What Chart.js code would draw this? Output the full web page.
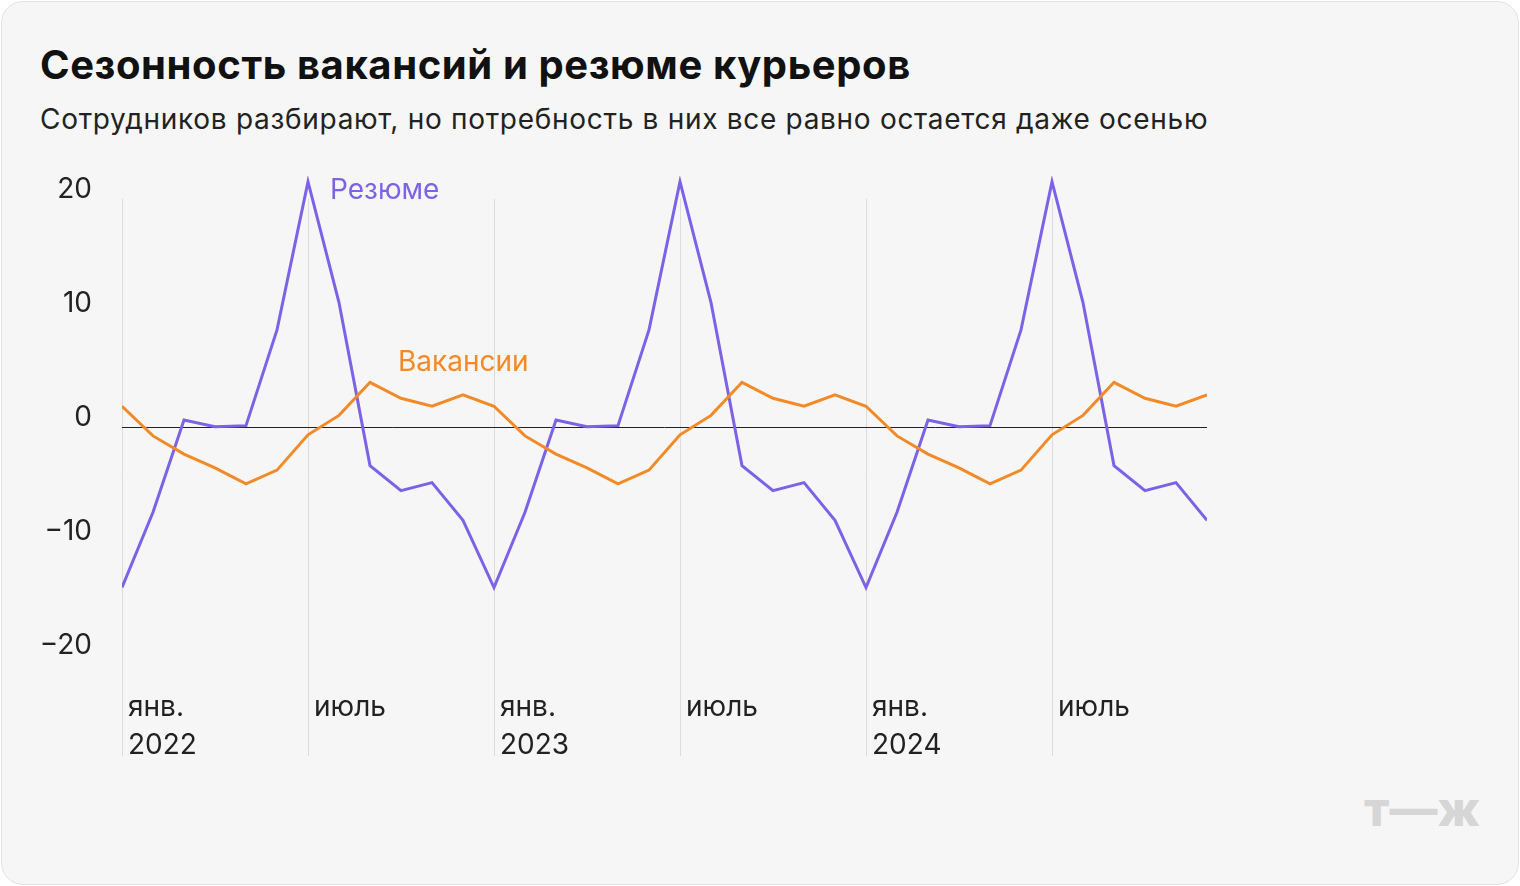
<!DOCTYPE html>
<html>
<head>
<meta charset="utf-8">
<script src="https://cdn.jsdelivr.net/npm/chart.js@4"></script>
<style>
  body { margin: 0; background: #fff; font-family: Inter, "Noto Sans", sans-serif; }
  .card { position: absolute; left: 1px; top: 1px; width: 1516px; height: 882px; background: #f6f6f6;
          border: 1px solid #e2e2e2; border-radius: 22px; }
  h1 { position: absolute; left: 40px; top: 40px; margin: 0; font-size: 40px; font-weight: 700; color: #111; letter-spacing: 0.6px; }
  .sub { position: absolute; left: 40px; top: 102px; font-size: 28px; color: #222; letter-spacing: 0.7px; }
  .mark { position: absolute; right: 40px; bottom: 48px; font-size: 48px; font-weight: 800; color: #d6d6d6; }
  canvas { position: absolute; left: 0; top: 0; }
</style>
</head>
<body>
<div class="card"></div>
<h1>Сезонность вакансий и резюме курьеров</h1>
<div class="sub">Сотрудников разбирают, но потребность в них все равно остается даже осенью</div>
<div class="mark">т—ж</div>
<div style="position:absolute;left:0;top:0;width:1520px;height:886px"><canvas id="c"></canvas></div>
<script>
const months = ['янв.', 'фев.', 'март', 'апр.', 'май', 'июнь', 'июль', 'авг.', 'сент.', 'окт.', 'нояб.', 'дек.'];
const years = ['2022', '2023', '2024'];
const resumeYear = [-14.1, -7.5, 0.6, 0, 0.1, 8.5, 21.5, 10.9, -3.4, -5.6, -4.9, -8.2];
const vacancyYear = [1.8, -0.8, -2.4, -3.6, -5.0, -3.8, -0.7, 1.0, 3.9, 2.5, 1.8, 2.8];
const resume = [...resumeYear, ...resumeYear, ...resumeYear];
const vacancies = [...vacancyYear, ...vacancyYear, ...vacancyYear];
const yTicks = [20, 10, 0, -10, -20];

const PURPLE = '#7b62e6', ORANGE = '#f28a27';

const decor = {
  id: 'decor',
  beforeDatasetsDraw(chart) {
    const { ctx, scales: { x, y } } = chart;
    ctx.save();
    ctx.strokeStyle = '#dcdcdc'; ctx.lineWidth = 1;
    for (let i = 0; i < resume.length; i += 6) {
      const px = Math.round(x.getPixelForValue(i)) + 0.5;
      ctx.beginPath(); ctx.moveTo(px, y.getPixelForValue(20)); ctx.lineTo(px, 756); ctx.stroke();
    }
    ctx.strokeStyle = '#222';
    const zy = Math.round(y.getPixelForValue(0)) + 0.5;
    ctx.beginPath(); ctx.moveTo(x.getPixelForValue(0), zy); ctx.lineTo(x.getPixelForValue(35), zy); ctx.stroke();
    ctx.fillStyle = '#222'; ctx.font = '28px Inter, "Noto Sans", sans-serif';
    ctx.textAlign = 'right'; ctx.textBaseline = 'middle';
    yTicks.forEach(v => ctx.fillText(String(v).replace('-', '\u2212'), 92, y.getPixelForValue(v) - 9));
    ctx.textAlign = 'left';
    for (let i = 0; i < resume.length; i += 6) {
      const px = x.getPixelForValue(i) + 6;
      const m = i % 12;
      ctx.fillText(months[m], px, 708);
      if (m === 0) ctx.fillText(years[i / 12], px, 746);
    }
    ctx.fillStyle = PURPLE; ctx.fillText('Резюме', 330, 191);
    ctx.fillStyle = ORANGE; ctx.fillText('Вакансии', 398, 363);
    ctx.restore();
  }
};

new Chart(document.getElementById('c'), {
  type: 'line',
  data: {
    labels: resume.map((_, i) => i),
    datasets: [
      { label: 'Вакансии', data: vacancies.map((v, i) => ({ x: i, y: v })), borderColor: ORANGE, borderWidth: 3, pointRadius: 0, tension: 0 },
      { label: 'Резюме', data: resume.map((v, i) => ({ x: i, y: v })), borderColor: PURPLE, borderWidth: 3, pointRadius: 0, tension: 0 }
    ]
  },
  options: {
    responsive: true, maintainAspectRatio: false, animation: false,
    layout: { padding: { left: 122, right: 313, top: 176, bottom: 140 } },
    scales: {
      x: { type: 'linear', min: 0, max: 35, display: false },
      y: { min: -28, max: 22, display: false }
    },
    plugins: { legend: { display: false }, tooltip: { enabled: false } }
  },
  plugins: [decor]
});
</script>
</body>
</html>
